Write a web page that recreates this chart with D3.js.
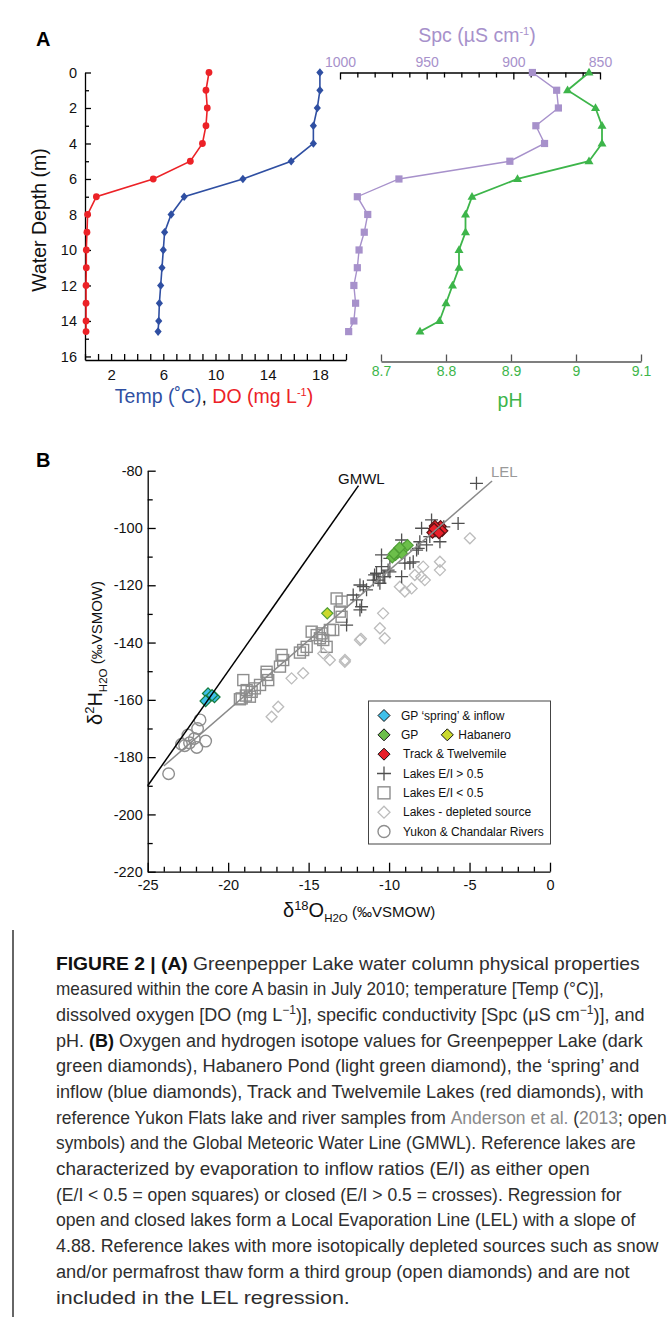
<!DOCTYPE html>
<html>
<head>
<meta charset="utf-8">
<script src="https://cdn.jsdelivr.net/npm/d3@7"></script>
<style>
body { margin:0; background:#fff; }
svg text { font-family: "Liberation Sans", Arial, Helvetica, sans-serif; }
</style>
</head>
<body>
<svg id="fig" width="670" height="1317"></svg>
<script>
// ---- panel A : water column profile ----
var depth = [0,1,2,3,4,5,6,7,8,9,10,11,12,13,14,14.6];
var temp  = [18.0,18.0,17.8,17.5,17.5,15.8,12.1,7.6,6.6,6.1,6.0,5.9,5.8,5.7,5.65,5.6];
var dOxy  = [9.5,9.27,9.37,9.27,9.0,8.07,5.23,0.87,0.2,0.15,0.1,0.1,0.08,0.08,0.08,0.08];
var spc   = [889,875,874,887,882,902,966,990,984,986,989,990,992,991,992,995];
var pH    = [9.02,8.987,9.03,9.04,9.04,9.02,8.91,8.84,8.83,8.83,8.82,8.82,8.81,8.80,8.79,8.76];

var depthTicks = [0,2,4,6,8,10,12,14,16];
var tempTicks = [2,6,10,14,18];
var spcTicks = [1000,950,900,850];
var phTicks = [8.7,8.8,8.9,9,9.1];

// ---- panel B : isotopes (d18O, d2H) ----
var gpSpring = [[-21.25,-157.8],[-20.85,-159.0],[-21.4,-160.4],[-21.0,-158.4]];
var gp = [[-9.8,-110.2],[-9.6,-109.4],[-9.45,-108.6],[-9.25,-107.8],[-9.05,-107.0],[-8.85,-106.0],
          [-9.55,-108.2],[-9.2,-108.9],[-9.35,-106.9],[-9.7,-109.0]];
var habanero = [[-13.84,-129.8]];
var trackTwelve = [[-7.3,-101.6],[-7.0,-100.6],[-6.8,-99.4],[-7.15,-99.3],[-6.7,-101.0],[-7.2,-100.3],[-6.9,-101.8]];
var lakesClosed = [[-4.57,-84.4],[-5.71,-98.4],[-7.36,-97.2],[-7.98,-100.1],[-6.84,-104.8],[-7.67,-105.9],
          [-8.09,-104.8],[-8.29,-107.7],[-9.22,-104.2],[-8.5,-111.8],[-9.02,-112.3],[-10.47,-109.4],
          [-9.95,-110.6],[-10.47,-113.5],[-10.06,-114.7],[-10.78,-115.8],[-10.37,-117.0],[-9.22,-117.0],
          [-10.98,-118.2],[-10.57,-119.3],[-7.47,-103.0],[-6.6,-99.6],[-11.6,-120.5],[-12.02,-125.1],
          [-11.71,-127.5],[-12.64,-133.9],[-12.23,-123.4],[-11.81,-119.9],[-11.4,-121.6],[-10.9,-116.4],
          [-11.81,-128.6],[-9.95,-115.3],[-10.27,-117.0],[-10.68,-118.2],[-8.71,-112.3],[-8.19,-107.1]];
var lakesOpen = [[-19.27,-159.8],[-19.16,-159.5],[-19.06,-153.1],[-18.85,-156.6],[-18.54,-157.2],[-18.65,-158.9],
          [-18.34,-156.0],[-18.9,-158.5],[-18.02,-154.8],[-17.61,-150.2],[-17.51,-153.1],[-17.6,-151.3],
          [-16.68,-144.3],[-16.58,-146.1],[-16.78,-148.4],[-15.34,-142.6],[-15.12,-141.5],[-15.54,-143.5],
          [-14.81,-136.2],[-14.5,-137.4],[-14.19,-136.8],[-14.09,-139.1],[-13.68,-135.6],[-13.88,-141.5],
          [-13.26,-124.6],[-12.95,-125.7],[-13.06,-129.2],[-12.95,-131.0],[-13.47,-135.6],[-14.3,-138.5]];
var lakesDepleted = [[-4.98,-103.6],[-6.84,-111.8],[-6.84,-114.7],[-7.88,-113.5],[-8.4,-116.4],[-7.78,-118.2],
          [-8.0,-117.0],[-8.6,-121.1],[-9.02,-122.2],[-9.33,-120.5],[-10.37,-129.8],[-10.57,-135.0],
          [-10.27,-138.5],[-11.81,-139.1],[-11.75,-138.7],[-12.74,-146.1],[-13.68,-146.1],[-12.75,-146.7],
          [-15.34,-150.7],[-16.06,-152.5],[-16.89,-162.4],[-17.3,-165.9],[-14.09,-143.8]];
var rivers = [[-23.7,-185.8],[-21.75,-167.0],[-21.9,-170.0],[-22.5,-172.3],[-22.1,-173.5],[-21.4,-174.4],
          [-22.7,-176.0],[-21.95,-176.6],[-22.4,-175.0],[-22.9,-175.5]];
var gmwl = [[-25,-190],[-11.9,-85.2]];
var lel = [[-24,-183.1],[-3.6,-83.6]];

var svg = d3.select('#fig');

var RED = '#ec2227', BLUE = '#2f4fa2', LAV = '#a791cb', GREEN = '#3db54a';

function plain(d) { return String(d); }

// rich text: segments {t, size, fill, weight, shift}
function rich(sel, segs, base) {
  var prev = 0;
  segs.forEach(function(s) {
    var sh = s.shift || 0;
    var ts = sel.append('tspan').text(s.t).attr('font-size', s.size || base);
    if (sh != prev) ts.attr('dy', sh - prev);
    if (s.fill) ts.attr('fill', s.fill);
    if (s.weight) ts.attr('font-weight', s.weight);
    prev = sh;
  });
}

// ================= PANEL A =================
var yA = d3.scaleLinear().domain([0,16.2]).range([72.5,360]);
var xT = d3.scaleLinear().domain([0,20]).range([85,346]);
var xSpc = d3.scaleLinear().domain([1000,850]).range([340,600]);
var xPH = d3.scaleLinear().domain([8.7,9.1]).range([381,641]);

svg.append('text').attr('x',36).attr('y',46).attr('font-size',20).attr('font-weight','bold').text('A');

var gA = svg.append('g');

// depth axis
var dAx = gA.append('g').attr('transform','translate(85,0)')
  .call(d3.axisLeft(yA).tickValues(depthTicks).tickSizeInner(-6).tickSizeOuter(0).tickPadding(8));
gA.append('g').attr('transform','translate(85,0)')
  .call(d3.axisLeft(yA).tickValues(d3.range(1,16,2)).tickSizeInner(-4).tickSizeOuter(0).tickFormat(''))
  .select('.domain').remove();

// temp / DO axis
var tAx = gA.append('g').attr('transform','translate(0,360)')
  .call(d3.axisBottom(xT).tickValues(d3.range(0,21)).tickSizeInner(-6).tickSizeOuter(0).tickPadding(9)
    .tickFormat(function(d){ return tempTicks.indexOf(d) >= 0 ? d : ''; }));

// spc axis
var sAx = gA.append('g').attr('transform','translate(0,72.5)')
  .call(d3.axisTop(xSpc).tickValues(spcTicks).tickSizeInner(-7).tickSizeOuter(0).tickPadding(6).tickFormat(plain));
gA.append('g').attr('transform','translate(0,72.5)')
  .call(d3.axisTop(xSpc).tickValues(d3.range(860,1000,10).filter(function(d){return d%50;}))
    .tickSizeInner(-5).tickSizeOuter(0).tickFormat(''))
  .select('.domain').remove();

// pH axis
var phAx = gA.append('g').attr('transform','translate(0,361.5)')
  .call(d3.axisBottom(xPH).tickValues(phTicks).tickSizeInner(-7).tickSizeOuter(0).tickPadding(5).tickFormat(plain));
phAx.selectAll('line,path').attr('stroke','#555');

gA.selectAll('.tick text').attr('font-family','"Liberation Sans", Arial, sans-serif');
dAx.selectAll('text').attr('font-size',14.5).attr('fill','#111');
tAx.selectAll('text').attr('font-size',15).attr('fill','#111');
sAx.selectAll('text').attr('font-size',14).attr('fill',LAV);
phAx.selectAll('text').attr('font-size',14).attr('fill',GREEN);
gA.selectAll('.domain, .tick line').attr('stroke-width',1.3);

// profiles
function profile(vals, sc, color, w) {
  var line = d3.line().x(function(d,i){ return sc(vals[i]); }).y(function(d){ return yA(d); });
  gA.append('path').datum(depth).attr('d', line).attr('fill','none').attr('stroke',color).attr('stroke-width',w);
}
profile(dOxy, xT, RED, 1.6);
profile(temp, xT, BLUE, 1.6);
profile(spc, xSpc, LAV, 1.4);
profile(pH, xPH, GREEN, 1.8);

gA.append('g').selectAll('circle').data(depth).enter().append('circle')
  .attr('cx', function(d,i){ return xT(dOxy[i]); }).attr('cy', function(d){ return yA(d); })
  .attr('r',3.4).attr('fill',RED);
gA.append('g').selectAll('path').data(depth).enter().append('path')
  .attr('transform', function(d,i){ return 'translate(' + xT(temp[i]) + ',' + yA(d) + ')'; })
  .attr('d','M0,-4.3L3.6,0L0,4.3L-3.6,0Z').attr('fill',BLUE);
gA.append('g').selectAll('rect').data(depth).enter().append('rect')
  .attr('x', function(d,i){ return xSpc(spc[i]) - 3.6; }).attr('y', function(d){ return yA(d) - 3.6; })
  .attr('width',7.2).attr('height',7.2).attr('fill',LAV);
gA.append('g').selectAll('path').data(depth).enter().append('path')
  .attr('transform', function(d,i){ return 'translate(' + xPH(pH[i]) + ',' + yA(d) + ')'; })
  .attr('d','M0,-4.8L4.5,3L-4.5,3Z').attr('fill',GREEN);

// axis titles
svg.append('text').attr('transform','translate(46,220) rotate(-90)').attr('text-anchor','middle')
  .attr('font-size',19.5).attr('fill','#111').text('Water Depth (m)');
var spcT = svg.append('text').attr('x',477).attr('y',42).attr('text-anchor','middle').attr('fill',LAV);
rich(spcT, [{t:'Spc (µS cm'},{t:'-1',size:11,shift:-7},{t:')'}], 19.5);
var tdo = svg.append('text').attr('x',214).attr('y',403).attr('text-anchor','middle');
rich(tdo, [{t:'Temp (˚C)',fill:BLUE},{t:', ',fill:'#111'},{t:'DO (mg L',fill:RED},{t:'-1',fill:RED,size:11,shift:-7},{t:')',fill:RED}], 19.5);
svg.append('text').attr('x',510).attr('y',407).attr('text-anchor','middle').attr('font-size',19.5)
  .attr('fill',GREEN).text('pH');

// ================= PANEL B =================
var xB = d3.scaleLinear().domain([-25,0]).range([147.7,550]);
var yB = d3.scaleLinear().domain([-220,-80]).range([871.7,470.7]);

svg.append('text').attr('x',36).attr('y',467).attr('font-size',20).attr('font-weight','bold').text('B');

var gB = svg.append('g');
gB.append('g').attr('transform','translate(147.7,0)')
  .call(d3.axisLeft(yB).tickValues(d3.range(-220,-79,20)).tickSizeInner(-8).tickSizeOuter(0).tickPadding(5).tickFormat(plain));
gB.append('g').attr('transform','translate(147.7,0)')
  .call(d3.axisLeft(yB).tickValues(d3.range(-210,-80,20)).tickSizeInner(-5).tickSizeOuter(0).tickFormat(''))
  .select('.domain').remove();
gB.append('g').attr('transform','translate(0,871.7)')
  .call(d3.axisBottom(xB).tickValues(d3.range(-25,1,5)).tickSizeInner(-9).tickSizeOuter(0).tickPadding(8).tickFormat(plain));
gB.append('g').attr('transform','translate(0,871.7)')
  .call(d3.axisBottom(xB).tickValues(d3.range(-24,0).filter(function(d){return d%5;})).tickSizeInner(-5).tickSizeOuter(0).tickFormat(''))
  .select('.domain').remove();
gB.selectAll('.tick text').attr('font-size',14.5).attr('font-family','"Liberation Sans", Arial, sans-serif').attr('fill','#111');
gB.selectAll('.domain, .tick line').attr('stroke-width',1.3);

function px(d){ return xB(d[0]); }
function py(d){ return yB(d[1]); }
function diamond(r){ return 'M0,' + (-r) + 'L' + r + ',0L0,' + r + 'L' + (-r) + ',0Z'; }

var marks = gB.append('g');
marks.selectAll('rect.sq').data(lakesOpen).enter().append('rect')
  .attr('x', function(d){ return px(d) - 5.5; }).attr('y', function(d){ return py(d) - 5.5; })
  .attr('width',11).attr('height',11).attr('fill','none').attr('stroke','#8e8e8e').attr('stroke-width',1.4);
marks.selectAll('circle.rv').data(rivers).enter().append('circle')
  .attr('cx', px).attr('cy', py).attr('r',5.8)
  .attr('fill','none').attr('stroke','#8e8e8e').attr('stroke-width',1.4);
marks.selectAll('path.dp').data(lakesDepleted).enter().append('path')
  .attr('transform', function(d){ return 'translate(' + px(d) + ',' + py(d) + ')'; })
  .attr('d', diamond(5.5)).attr('fill','none').attr('stroke','#bcbcbc').attr('stroke-width',1.3);

var lineB = d3.line().x(px).y(py);
gB.append('path').datum(lel).attr('d', lineB).attr('stroke','#8a8a8a').attr('stroke-width',1.5).attr('fill','none');
gB.append('path').datum(gmwl).attr('d', lineB).attr('stroke','#000').attr('stroke-width',1.5).attr('fill','none');

marks.selectAll('path.cr').data(lakesClosed).enter().append('path')
  .attr('transform', function(d){ return 'translate(' + px(d) + ',' + py(d) + ')'; })
  .attr('d','M-6.5,0H6.5M0,-6.5V6.5').attr('stroke','#505050').attr('stroke-width',1.3);

function filled(data, fill, stroke) {
  marks.append('g').selectAll('path').data(data).enter().append('path')
    .attr('transform', function(d){ return 'translate(' + px(d) + ',' + py(d) + ')'; })
    .attr('d', diamond(5.6)).attr('fill',fill).attr('stroke',stroke).attr('stroke-width',1.2);
}
filled(gpSpring, '#3fc0ea', '#157a3c');
filled(gp, '#6cbf4a', '#4f9e35');
filled(habanero, '#cbd92c', '#4f9e35');
filled(trackTwelve, '#e8202a', '#5a1414');

svg.append('text').attr('x',338).attr('y',484).attr('font-size',15).attr('fill','#111').text('GMWL');
svg.append('text').attr('x',491).attr('y',477).attr('font-size',15).attr('fill','#999').text('LEL');

// axis titles B
var yt = svg.append('text').attr('transform','translate(102,653) rotate(-90)').attr('text-anchor','middle').attr('fill','#111');
rich(yt, [{t:'δ',size:20},{t:'2',size:13,shift:-8},{t:'H',size:20},{t:'H2O',size:11.5,shift:5},{t:' (‰VSMOW)',size:15}], 20);
var xt = svg.append('text').attr('x',283).attr('y',917).attr('fill','#111');
rich(xt, [{t:'δ',size:20},{t:'18',size:13,shift:-7},{t:'O',size:20},{t:'H2O',size:11.5,shift:5},{t:' (‰VSMOW)',size:15}], 20);

// legend
var leg = svg.append('g').attr('font-size',12).attr('fill','#111');
leg.append('rect').attr('x',368.5).attr('y',701).attr('width',182).attr('height',143)
  .attr('fill','#fff').attr('stroke','#444').attr('stroke-width',1);
var legRows = ['GP ‘spring’ & inflow','GP','Track & Twelvemile','Lakes E/I > 0.5','Lakes E/I < 0.5','Lakes - depleted source','Yukon & Chandalar Rivers'];
var legY = d3.scaleLinear().domain([0,6]).range([715.5,831.5]);
legRows.forEach(function(t,i){
  var y = legY(i);
  var sym = leg.append('g').attr('transform','translate(384,' + y + ')');
  if (i == 0) sym.append('path').attr('d',diamond(6)).attr('fill','#3fc0ea').attr('stroke','#111').attr('stroke-width',1);
  if (i == 1) sym.append('path').attr('d',diamond(6)).attr('fill','#6cbf4a').attr('stroke','#111').attr('stroke-width',1);
  if (i == 2) sym.append('path').attr('d',diamond(6)).attr('fill','#e8202a').attr('stroke','#111').attr('stroke-width',1);
  if (i == 3) sym.append('path').attr('d','M-7,0H7M0,-7V7').attr('stroke','#505050').attr('stroke-width',1.3);
  if (i == 4) sym.append('rect').attr('x',-6).attr('y',-6).attr('width',12).attr('height',12).attr('fill','none').attr('stroke','#8e8e8e').attr('stroke-width',1.4);
  if (i == 5) sym.append('path').attr('d',diamond(6)).attr('fill','none').attr('stroke','#bcbcbc').attr('stroke-width',1.3);
  if (i == 6) sym.append('circle').attr('r',6).attr('fill','none').attr('stroke','#8e8e8e').attr('stroke-width',1.4);
  leg.append('text').attr('x', i < 2 ? 401 : 403).attr('y', y + 4.3).text(t);
});
leg.append('path').attr('transform','translate(447.3,' + legY(1) + ')').attr('d',diamond(6))
  .attr('fill','#cbd92c').attr('stroke','#111').attr('stroke-width',1);
leg.append('text').attr('x',458.3).attr('y',legY(1) + 4.3).text('Habanero');

// ================= CAPTION =================
svg.append('line').attr('x1',13).attr('x2',13).attr('y1',930).attr('y2',1317).attr('stroke','#333').attr('stroke-width',1.5);
var GRAY = '#8a8a8a';
var caption = [
  [{t:'FIGURE 2 | (A)',weight:'bold',fill:'#111'},{t:' Greenpepper Lake water column physical properties'}],
  [{t:'measured within the core A basin in July 2010; temperature [Temp (°C)],'}],
  [{t:'dissolved oxygen [DO (mg L'},{t:'−1',size:12,shift:-7},{t:')], specific conductivity [Spc (μS cm'},{t:'−1',size:12,shift:-7},{t:')], and'}],
  [{t:'pH. '},{t:'(B)',weight:'bold',fill:'#111'},{t:' Oxygen and hydrogen isotope values for Greenpepper Lake (dark'}],
  [{t:'green diamonds), Habanero Pond (light green diamond), the ‘spring’ and'}],
  [{t:'inflow (blue diamonds), Track and Twelvemile Lakes (red diamonds), with'}],
  [{t:'reference Yukon Flats lake and river samples from '},{t:'Anderson et al.',fill:GRAY},{t:' ('},{t:'2013',fill:GRAY},{t:'; open'}],
  [{t:'symbols) and the Global Meteoric Water Line (GMWL). Reference lakes are'}],
  [{t:'characterized by evaporation to inflow ratios (E/I) as either open'}],
  [{t:'(E/I < 0.5 = open squares) or closed (E/I > 0.5 = crosses). Regression for'}],
  [{t:'open and closed lakes form a Local Evaporation Line (LEL) with a slope of'}],
  [{t:'4.88. Reference lakes with more isotopically depleted sources such as snow'}],
  [{t:'and/or permafrost thaw form a third group (open diamonds) and are not'}],
  [{t:'included in the LEL regression.'}]
];
// right edge of each caption line in the printed figure
var captionEnds = [640,604,645,643,640,644,666,636,590,622,636,659,630,350];
var capY = d3.scaleLinear().domain([0,13]).range([969.5,1303.5]);
caption.forEach(function(segs,i){
  var t = svg.append('text').attr('x',0).attr('y',0).attr('fill','#2e2e2e');
  rich(t, segs, 18);
  var w = t.node().getComputedTextLength();
  var sx = (captionEnds[i] - 56) / w;
  t.attr('transform','translate(56,' + capY(i) + ') scale(' + sx + ',1)');
});
</script>
</body>
</html>
